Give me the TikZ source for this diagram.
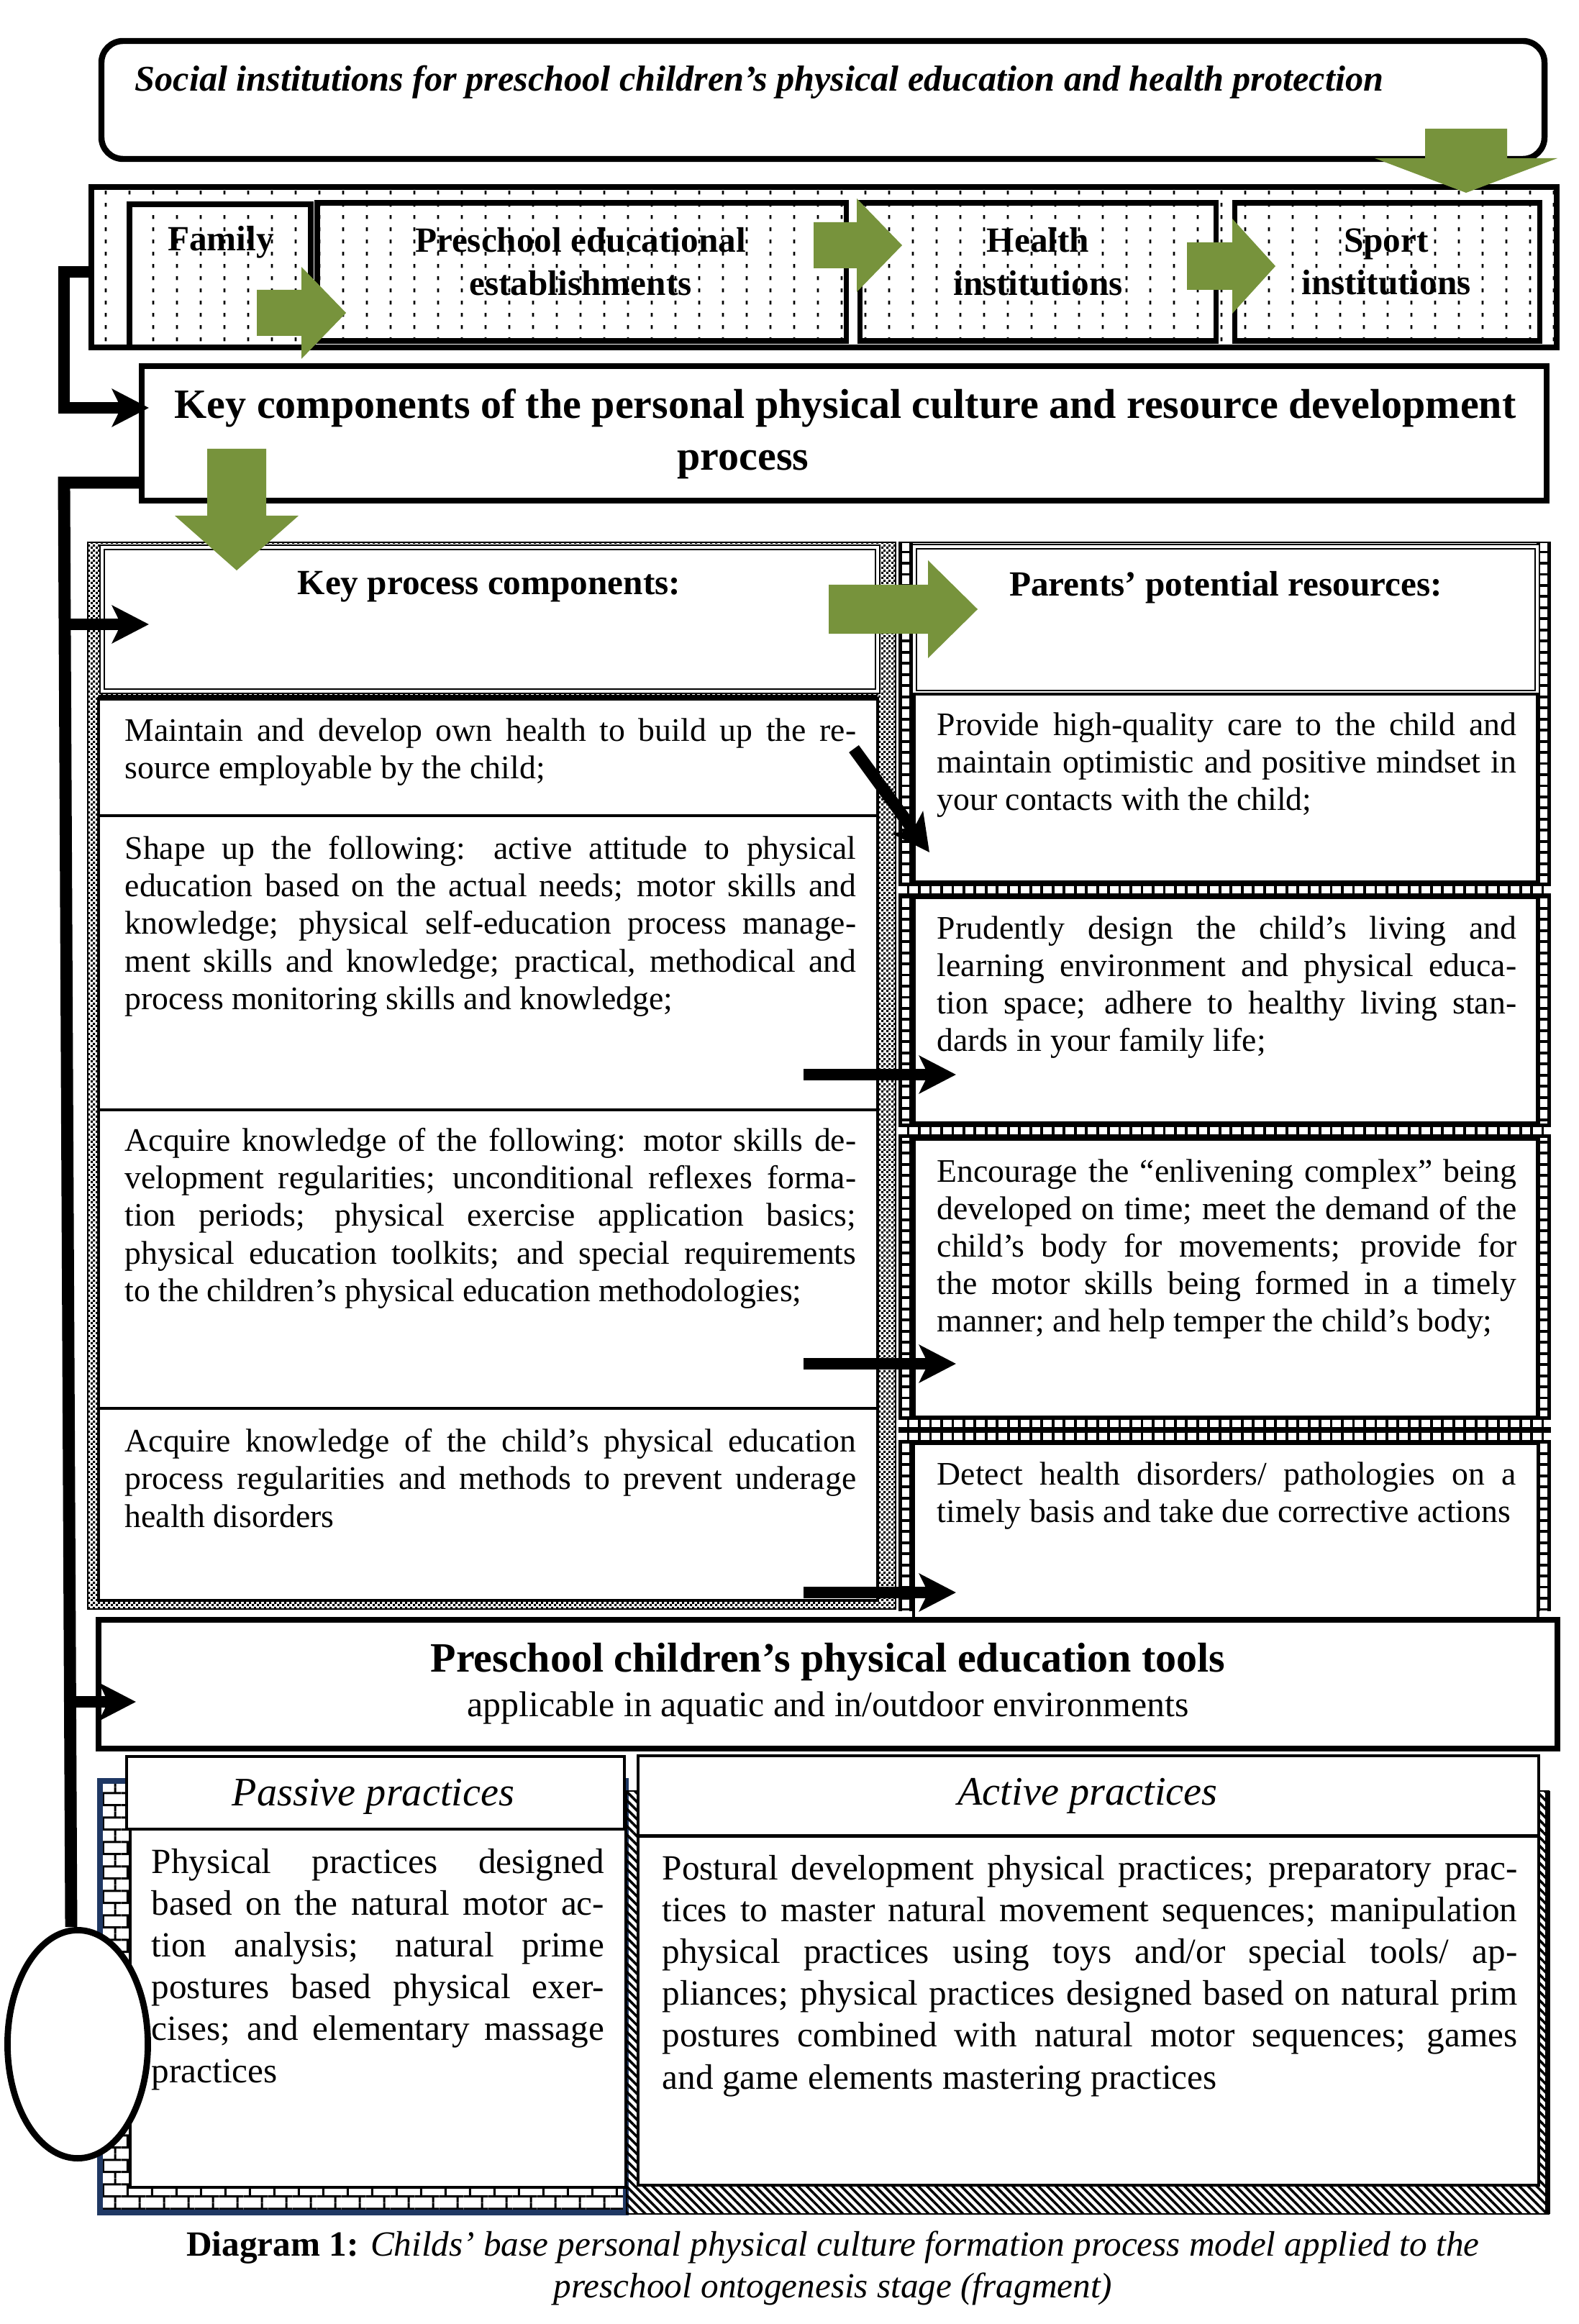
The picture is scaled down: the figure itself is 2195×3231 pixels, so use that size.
\documentclass[tikz,border=0pt]{standalone}
\usepackage{fontspec}
\setmainfont{Liberation Serif}
\usetikzlibrary{arrows.meta,patterns,patterns.meta,shapes.geometric}
\definecolor{olivegreen}{RGB}{119,147,60}
\definecolor{navyline}{RGB}{31,56,100}
\tolerance=9999
\hbadness=10000
\hyphenpenalty=10000
% fill patterns
\pgfdeclarepatternformonly{instdots}{\pgfqpoint{0pt}{0pt}}{\pgfqpoint{9.4pt}{4.8pt}}{\pgfqpoint{9.4pt}{4.8pt}}{%
  \pgfpathrectangle{\pgfqpoint{4pt}{1.6pt}}{\pgfqpoint{0.8pt}{1.5pt}}\pgfusepath{fill}}
\pgfdeclarepatternformonly{finecheck}{\pgfqpoint{0pt}{0pt}}{\pgfqpoint{2pt}{2pt}}{\pgfqpoint{2pt}{2pt}}{%
  \pgfpathrectangle{\pgfqpoint{0pt}{0pt}}{\pgfqpoint{1pt}{1pt}}%
  \pgfpathrectangle{\pgfqpoint{1pt}{1pt}}{\pgfqpoint{1pt}{1pt}}\pgfusepath{fill}}
\pgfdeclarepatternformonly{brickwall}{\pgfqpoint{0pt}{0pt}}{\pgfqpoint{9.6pt}{9.6pt}}{\pgfqpoint{9.6pt}{9.6pt}}{%
  \pgfsetlinewidth{0.9pt}%
  \pgfpathmoveto{\pgfqpoint{0pt}{2.4pt}}\pgfpathlineto{\pgfqpoint{9.6pt}{2.4pt}}%
  \pgfpathmoveto{\pgfqpoint{0pt}{7.2pt}}\pgfpathlineto{\pgfqpoint{9.6pt}{7.2pt}}%
  \pgfpathmoveto{\pgfqpoint{2.4pt}{2.4pt}}\pgfpathlineto{\pgfqpoint{2.4pt}{7.2pt}}%
  \pgfpathmoveto{\pgfqpoint{7.2pt}{7.2pt}}\pgfpathlineto{\pgfqpoint{7.2pt}{9.6pt}}%
  \pgfpathmoveto{\pgfqpoint{7.2pt}{0pt}}\pgfpathlineto{\pgfqpoint{7.2pt}{2.4pt}}%
  \pgfusepath{stroke}}
% green block arrows
\newcommand{\gdown}[6]{\fill[garrow] (#1-#5,#2) -- (#1+#5,#2) -- (#1+#5,#3) -- (#1+#6,#3) -- (#1,#4) -- (#1-#6,#3) -- (#1-#5,#3) -- cycle}
\newcommand{\gright}[6]{\fill[garrow] (#2,#1-#5) -- (#3,#1-#5) -- (#3,#1-#6) -- (#4,#1) -- (#3,#1+#6) -- (#3,#1+#5) -- (#2,#1+#5) -- cycle}
% ladder borders
\newcommand{\ladderV}[3]{\fill (#1-10,#2) rectangle (#1+10,#3);
  \draw[white, line width=3pt, dash pattern=on 3.3pt off 1.1pt] (#1,#2) -- (#1,#3)}
\newcommand{\ladderH}[3]{\fill (#2,#1-10) rectangle (#3,#1+10);
  \draw[white, line width=3pt, dash pattern=on 3.3pt off 1.1pt] (#2,#1) -- (#3,#1)}

\begin{document}
\begin{tikzpicture}[x=0.01cm, y=-0.01cm,
  garrow/.style={fill=olivegreen},
  thickbox/.style={draw, line width=2.5pt, fill=white},
  instbox/.style={draw, line width=2pt},
  colbox/.style={draw, line width=1.2pt, fill=white},
  dblbox/.style={draw, double, double distance=1pt, line width=0.6pt, fill=white},
  coltext/.style={anchor=north west, inner sep=0pt, text width=10.16cm, align=justify, font=\fontsize{13pt}{14.8pt}\selectfont},
  restext/.style={coltext, text width=8.05cm},
  practext/.style={anchor=north west, inner sep=0pt, align=justify, font=\fontsize{14pt}{16.5pt}\selectfont},
  titletext/.style={inner sep=0pt, font=\fontsize{14.3pt}{17pt}\selectfont\bfseries\itshape},
  headtext/.style={inner sep=0pt, font=\fontsize{14pt}{17pt}\selectfont\bfseries},
  bigtext/.style={inner sep=0pt, font=\fontsize{16.5pt}{20.5pt}\selectfont\bfseries},
  practhead/.style={inner sep=0pt, font=\fontsize{16pt}{19pt}\selectfont\itshape},
  instlabel/.style={inner sep=0pt, align=center, font=\fontsize{14pt}{17pt}\selectfont\bfseries},
  blkarrow/.style={line width=4.8pt, -{Stealth[length=14.5pt, width=14.8pt, inset=3.5pt]}},
  spine/.style={line width=4.8pt}]
\useasboundingbox (0,0) rectangle (2195,3231);
%Title box
\draw[line width=2.4pt, rounded corners=0.3cm] (141,57) rectangle (2147,221);
\node[titletext, anchor=west] (soc) at (187,114) {Social institutions for preschool children’s physical education and health protection};
%Institutions band
\fill[pattern=instdots] (127,260) rectangle (2164,483);
\draw[line width=2.3pt] (127,260) rectangle (2164,483);
\draw[instbox] (180,284) rectangle (432,483);
\draw[instbox] (441,282) rectangle (1176,474);
\draw[instbox] (1195,282) rectangle (1690,474);
\draw[instbox] (1716,282) rectangle (2140,474);
\node[instlabel] (fam) at (307,337) {Family};
\node[instlabel] (pre) at (807,364) {Preschool educational\\establishments};
\node[instlabel] (hea) at (1443,364) {Health\\institutions};
\node[instlabel] (spo) at (1927,364) {Sport\\institutions};
\gright{435}{357}{419}{481}{32}{64};
\gright{341}{1131}{1191}{1254}{32}{65};
\gright{370}{1650}{1713}{1773}{33}{66};
\gdown{2038}{179}{220}{268}{57}{127};
%Key components box
\draw[thickbox] (197,509) rectangle (2150,696);
\node[bigtext, align=center] (kct) at (1175,603) {Key components of the personal physical culture and resource development\\process\hspace*{2.84cm}};
%Left column
\fill[pattern=finecheck] (122,754) rectangle (1245,2237);
\draw[line width=0.8pt] (122,754) rectangle (1245,2237);
\draw[dblbox] (142,761) rectangle (1220,961);
\draw[colbox] (137,971) rectangle (1220,2225);
\draw[line width=2pt] (137,970) -- (1220,970);
\draw[line width=1.2pt] (137,1134) -- (1220,1134) (137,1543) -- (1220,1543) (137,1958) -- (1220,1958);
\node[headtext] (kph) at (680,816) {Key process components:};
\node[coltext] (kp1) at (173,998) {Maintain and develop own health to build up the re-\linebreak source employable by the child;};
\node[coltext] (kp2) at (173,1162) {Shape up the following: active attitude to physical\linebreak education based on the actual needs; motor skills and\linebreak knowledge; physical self-education process manage-\linebreak ment skills and knowledge; practical, methodical and\linebreak process monitoring skills and knowledge;};
\node[coltext] (kp3) at (173,1568) {Acquire knowledge of the following: motor skills de-\linebreak velopment regularities; unconditional reflexes forma-\linebreak tion periods; physical exercise application basics;\linebreak physical education toolkits; and special requirements\linebreak to the children’s physical education methodologies;};
\node[coltext] (kp4) at (173,1986) {Acquire knowledge of the child’s physical education\linebreak process regularities and methods to prevent underage\linebreak health disorders};
%Right column
\ladderV{1259}{754}{2240};
\ladderV{2146}{754}{2240};
\ladderH{1237}{1249}{2156};
\ladderH{1572}{1249}{2156};
\ladderH{1979}{1249}{2156};
\ladderH{1997}{1249}{2156};
\draw[line width=0.8pt] (1249,754) -- (2156,754);
\draw[dblbox] (1271,760) rectangle (2137,963);
\draw[colbox] (1271,965) rectangle (2137,1226);
\draw[colbox] (1271,1248) rectangle (2137,1561);
\draw[colbox] (1271,1584) rectangle (2137,1970);
\draw[colbox] (1270,2007) rectangle (2138,2250);
\node[headtext] (prh) at (1704,817) {Parents’ potential resources:};
\node[restext] (pr1) at (1302,990) {Provide high-quality care to the child and\linebreak maintain optimistic and positive mindset in\linebreak your contacts with the child;};
\node[restext] (pr2) at (1302,1273) {Prudently design the child’s living and\linebreak learning environment and physical educa-\linebreak tion space; adhere to healthy living stan-\linebreak dards in your family life;};
\node[restext] (pr3) at (1302,1611) {Encourage the “enlivening complex” being\linebreak developed on time; meet the demand of the\linebreak child’s body for movements; provide for\linebreak the motor skills being formed in a timely\linebreak manner; and help temper the child’s body;};
\node[restext] (pr4) at (1302,2032) {Detect health disorders/ pathologies on a\linebreak timely basis and take due corrective actions};
%Tools box
\draw[thickbox] (137,2252) rectangle (2165,2431);
\node[bigtext] (toolt) at (1151,2311) {Preschool children’s physical education tools};
\node[inner sep=0pt, font=\fontsize{14.2pt}{17pt}\selectfont] (tools) at (1151,2374) {applicable in aquatic and in/outdoor environments};
%Passive practices
\fill[pattern=brickwall] (139,2476) rectangle (870,3076);
\draw[navyline, line width=2.2pt] (139,2476) rectangle (870,3076);
\draw[colbox] (176,2442) rectangle (868,2543);
\draw[colbox] (181,2543) rectangle (870,3041);
\node[practhead] (pah) at (519,2498) {Passive practices};
\node[practext, text width=6.29cm] (pat) at (210,2570) {Physical practices designed\linebreak based on the natural motor ac-\linebreak tion analysis; natural prime\linebreak postures based physical exer-\linebreak cises; and elementary massage\linebreak practices};
%Active practices
\fill[pattern={Lines[angle=-45,distance=2.4pt,line width=1pt]}] (871,2490) rectangle (2153,3078);
\draw[line width=0.8pt] (871,2490) rectangle (2153,3078);
\draw[line width=2pt] (2151,2490) -- (2151,3078);
\draw[colbox] (887,2441) rectangle (2139,2552);
\draw[colbox] (887,2553) rectangle (2139,3038);
\node[practhead] (ach) at (1512,2497) {Active practices};
\node[practext, text width=11.88cm] (act) at (920,2579) {Postural development physical practices; preparatory prac-\linebreak tices to master natural movement sequences; manipulation\linebreak physical practices using toys and/or special tools/ ap-\linebreak pliances; physical practices designed based on natural prim\linebreak postures combined with natural motor sequences; games\linebreak and game elements mastering practices};
%Oval
\node[draw, ellipse, line width=2.5pt, fill=white, minimum width=1.95cm, minimum height=3.17cm, inner sep=0pt] (oval) at (108,2842) {};
%Connectors
\coordinate (bandw) at (127,378);
\coordinate (elbow1) at (89,378);
\coordinate (kcin) at (207,567);
\draw[blkarrow] (bandw) -- (elbow1) |- (kcin);
\coordinate (kcw) at (197,671);
\coordinate (spinetop) at (89,671);
\draw[spine] (kcw) -- (spinetop) -- ([xshift=-0.09cm]oval.north);
\coordinate (spine1) at (90,868);
\coordinate (kpin) at (207,868);
\draw[blkarrow] (spine1) -- (kpin);
\coordinate (spine2) at (97,2366);
\coordinate (toolin) at (189,2366);
\draw[blkarrow] (spine2) -- (toolin);
\coordinate (kp1out) at (1187,1041);
\coordinate (pr1in) at (1292,1185);
\draw[blkarrow] (kp1out) -- (pr1in);
\coordinate (kp2out) at (1117,1494);
\coordinate (pr2in) at (1329,1494);
\draw[blkarrow] (kp2out) -- (pr2in);
\coordinate (kp3out) at (1117,1896);
\coordinate (pr3in) at (1329,1896);
\draw[blkarrow] (kp3out) -- (pr3in);
\coordinate (kp4out) at (1117,2214);
\coordinate (pr4in) at (1329,2214);
\draw[blkarrow] (kp4out) -- (pr4in);
%Green arrows between blocks
\gdown{329}{624}{717}{793}{41}{86};
\gright{847}{1152}{1290}{1359}{34}{68};
%Caption
\node[inner sep=0pt, align=center, font=\fontsize{14pt}{16.5pt}\selectfont] (cap) at (1158,3153) {\textbf{Diagram 1:} \textit{Childs’ base personal physical culture formation process model applied to the}\\\textit{preschool ontogenesis stage (fragment)}};
\end{tikzpicture}
\end{document}
